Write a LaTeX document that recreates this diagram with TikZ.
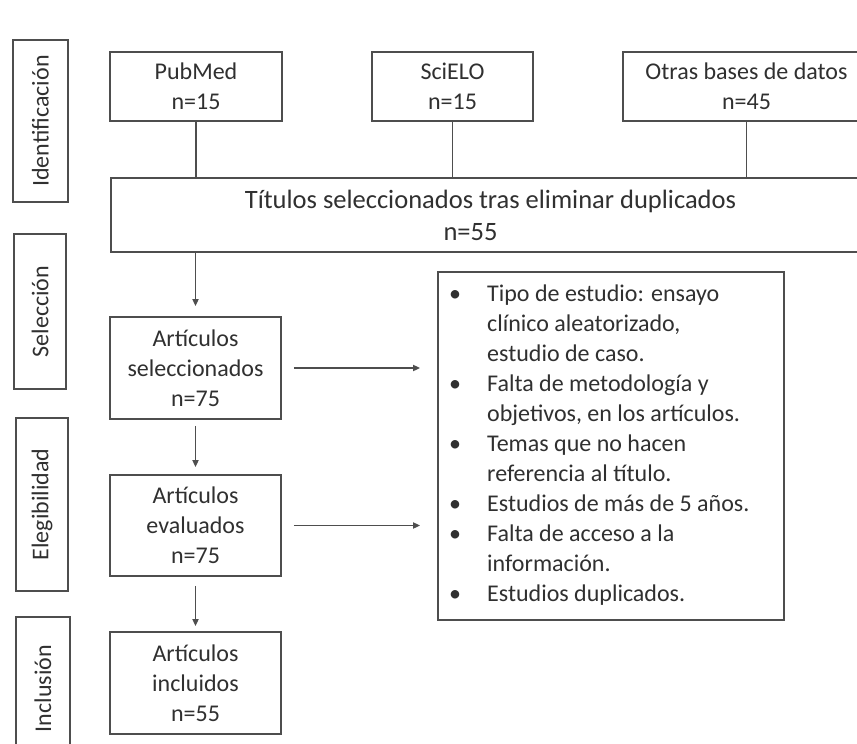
\documentclass[tikz,border=0pt]{standalone}
\usepackage{fontspec}
\setmainfont{Carlito}
\usetikzlibrary{arrows.meta,calc}
\definecolor{ln}{HTML}{4E4E4E}
\definecolor{tx}{HTML}{303030}
\begin{document}
\begin{tikzpicture}[x=1pt,y=-1pt,
  box/.style={draw=ln, line width=1.8pt, align=center, text=tx,
    font=\fontsize{24}{30}\selectfont, inner sep=0pt},
  lab/.style={box, rotate=90},
  txt/.style={text=tx, font=\fontsize{24}{30}\selectfont, inner sep=0pt},
  conn/.style={draw=ln, line width=1.8pt},
  arr/.style={conn, -{Triangle[length=7pt,width=6pt]}}]
\useasboundingbox[fill=white] (0,0) rectangle (857,744);

% phase labels
\node[lab, minimum width=162pt, minimum height=55pt] (lid) at (40.5,121) {Identificación};
\node[lab, minimum width=155pt, minimum height=52pt] (lsel) at (40,311.5) {Selección};
\node[lab, minimum width=173pt, minimum height=52pt] (leg) at (42,504.5) {Elegibilidad};
\node[lab, minimum width=143pt, minimum height=54pt] (linc) at (43,688.5) {Inclusión};

% sources
\node[box, minimum width=172pt, minimum height=69pt] (pub) at (196,86.5) {PubMed\\n=15};
\node[box, minimum width=161pt, minimum height=69pt] (sci) at (452.5,86.5) {SciELO\\n=15};
\node[box, minimum width=247pt, minimum height=69pt] (otr) at (746.5,86.5) {Otras bases de datos\\n=45};

% titles
\node[box, font=\fontsize{26.5}{32}\selectfont, minimum width=759pt, minimum height=74pt] (tit) at (490.5,215) {Títulos seleccionados tras eliminar duplicados\\n=55\hspace*{40pt}};

% flow
\node[box, minimum width=171pt, minimum height=102pt] (sel) at (195.5,368) {Artículos\\seleccionados\\n=75};
\node[box, minimum width=171pt, minimum height=101pt] (eva) at (195.5,525.5) {Artículos\\evaluados\\n=75};
\node[box, minimum width=171pt, minimum height=102pt] (inc) at (195.5,683) {Artículos\\incluidos\\n=55};

% exclusion box
\node[draw=ln, line width=1.8pt, minimum width=346pt, minimum height=348pt, inner sep=0pt] (exc) at (611,446) {};
\node[txt, align=left, anchor=west] (lst) at (449,445) {%
\makebox[38pt][l]{•}Tipo de estudio: ensayo\\
\hspace*{38pt}clínico aleatorizado,\\
\hspace*{38pt}estudio de caso.\\
\makebox[38pt][l]{•}Falta de metodología y\\
\hspace*{38pt}objetivos, en los artículos.\\
\makebox[38pt][l]{•}Temas que no hacen\\
\hspace*{38pt}referencia al título.\\
\makebox[38pt][l]{•}Estudios de más de 5 años.\\
\makebox[38pt][l]{•}Falta de acceso a la\\
\hspace*{38pt}información.\\
\makebox[38pt][l]{•}Estudios duplicados.};

% connectors
\draw[conn] (pub.south) -- (pub.south |- tit.north);
\draw[conn] (sci.south) -- (sci.south |- tit.north);
\draw[conn] (otr.south) -- (otr.south |- tit.north);
\draw[arr] (sel.north |- tit.south) -- ([yshift=10pt]sel.north);
\draw[arr] ([yshift=-6pt]sel.south) -- ([yshift=7pt]eva.north);
\draw[arr] ([yshift=-9pt]eva.south) -- ([yshift=5pt]inc.north);
\draw[arr] ([xshift=12pt]sel.east) -- ($(exc.west |- sel.east)+(-17,0)$);
\draw[arr] ([xshift=12pt]eva.east) -- ($(exc.west |- eva.east)+(-17,0)$);
\end{tikzpicture}
\end{document}
